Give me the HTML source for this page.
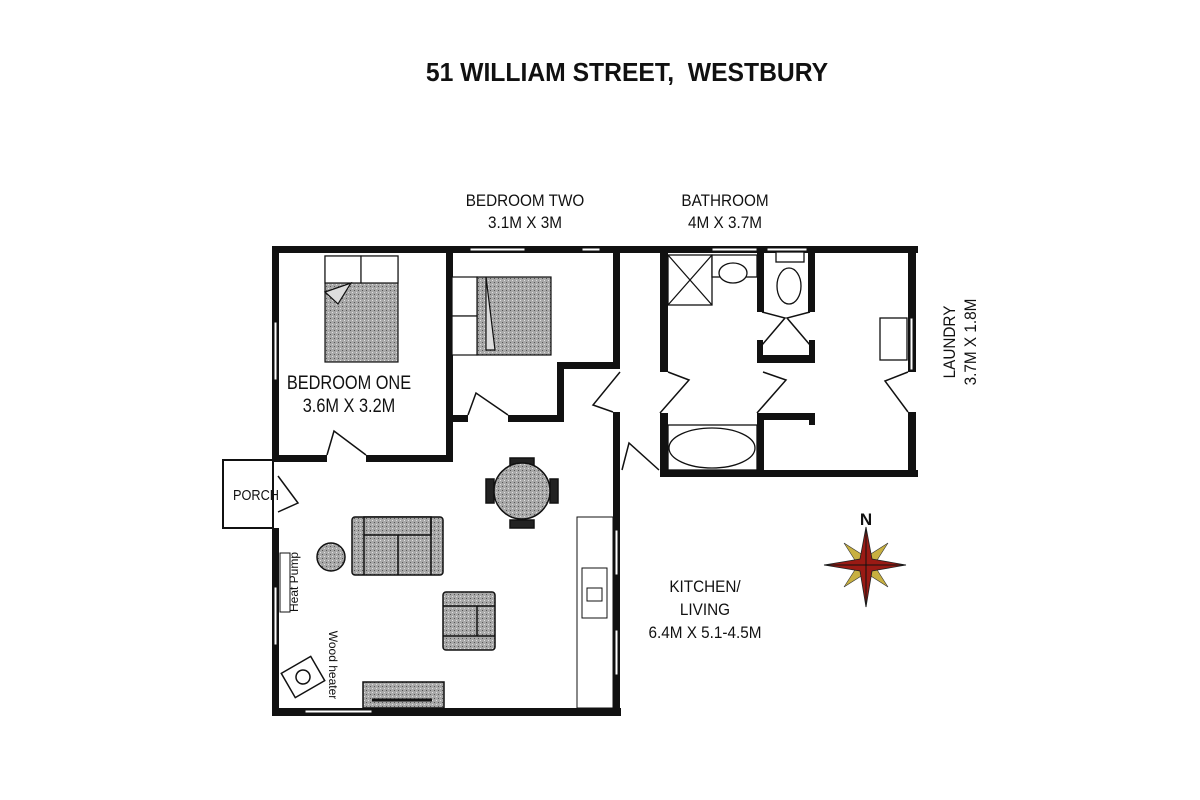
<!DOCTYPE html>
<html><head><meta charset="utf-8"><style>
html,body{margin:0;padding:0;background:#fff;}
svg{display:block}
text{font-family:"Liberation Sans",sans-serif;fill:#111}
</style></head><body>
<svg width="1200" height="800" viewBox="0 0 1200 800" xmlns="http://www.w3.org/2000/svg">
<defs>
<pattern id="g" width="4" height="4" patternUnits="userSpaceOnUse">
<rect width="4" height="4" fill="#a8a8a8"/><rect x="0" y="0" width="1" height="1" fill="#e0e0e0"/><rect x="2" y="2" width="1" height="1" fill="#555"/>
</pattern>
</defs>
<text x="627" y="81" font-size="26" font-weight="bold" text-anchor="middle" transform="translate(627 0) scale(0.95 1) translate(-627 0)" xml:space="preserve">51 WILLIAM STREET,  WESTBURY</text>

<g font-size="17" text-anchor="middle">
<text x="525" y="206" transform="translate(525 0) scale(0.9 1) translate(-525 0)">BEDROOM TWO</text>
<text x="525" y="228" transform="translate(525 0) scale(0.9 1) translate(-525 0)">3.1M X 3M</text>
<text x="725" y="206" transform="translate(725 0) scale(0.9 1) translate(-725 0)">BATHROOM</text>
<text x="725" y="228" transform="translate(725 0) scale(0.9 1) translate(-725 0)">4M X 3.7M</text>
<text x="705" y="592" transform="translate(705 0) scale(0.9 1) translate(-705 0)">KITCHEN/</text>
<text x="705" y="615" transform="translate(705 0) scale(0.9 1) translate(-705 0)">LIVING</text>
<text x="705" y="638" transform="translate(705 0) scale(0.9 1) translate(-705 0)">6.4M X 5.1-4.5M</text>
<text x="349" y="389" font-size="19" transform="translate(349 0) scale(0.86 1) translate(-349 0)">BEDROOM ONE</text>
<text x="349" y="412" font-size="19" transform="translate(349 0) scale(0.86 1) translate(-349 0)">3.6M X 3.2M</text>
<text transform="translate(955 342) rotate(-90) scale(0.9 1)" x="0" y="0">LAUNDRY</text>
<text transform="translate(976 342) rotate(-90) scale(0.9 1)" x="0" y="0">3.7M X 1.8M</text>
</g>

<!-- porch -->
<rect x="223" y="460" width="50" height="68" fill="#fff" stroke="#111" stroke-width="2"/>
<path d="M278 476 L298 503 L278 512" fill="#fff" stroke="#111" stroke-width="1.5"/>
<text x="256" y="500" font-size="15" text-anchor="middle" transform="translate(256 0) scale(0.85 1) translate(-256 0)">PORCH</text>

<!-- walls -->
<g fill="#111">
<rect x="272" y="246" width="646" height="7"/>
<rect x="272" y="246" width="7" height="215"/>
<rect x="272" y="528" width="7" height="188"/>
<rect x="272" y="708" width="349" height="8"/>
<rect x="446" y="246" width="7" height="216"/>
<rect x="272" y="455" width="55" height="7"/>
<rect x="366" y="455" width="87" height="7"/>
<rect x="446" y="415" width="22" height="7"/>
<rect x="508" y="415" width="55" height="7"/>
<rect x="557" y="362" width="7" height="60"/>
<rect x="557" y="362" width="63" height="7"/>
<rect x="613" y="246" width="7" height="123"/>
<rect x="613" y="412" width="7" height="304"/>
<rect x="660" y="246" width="8" height="126"/>
<rect x="660" y="413" width="8" height="64"/>
<rect x="660" y="470" width="258" height="7"/>
<rect x="908" y="246" width="8" height="126"/>
<rect x="908" y="412" width="8" height="65"/>
<rect x="757" y="246" width="7" height="66"/>
<rect x="808" y="246" width="7" height="66"/>
<rect x="757" y="355" width="58" height="8"/>
<rect x="757" y="340" width="6" height="22"/>
<rect x="809" y="340" width="6" height="22"/>
<rect x="757" y="413" width="7" height="64"/>
<rect x="757" y="413" width="58" height="7"/>
<rect x="809" y="413" width="6" height="12"/>
</g>
<!-- windows -->
<g fill="#fff" stroke="#111" stroke-width="1">
<rect x="470" y="248" width="55" height="3"/>
<rect x="582" y="248" width="18" height="3"/>
<rect x="712" y="248" width="45" height="3"/>
<rect x="767" y="248" width="40" height="3"/>
<rect x="274" y="322" width="3" height="58"/>
<rect x="274" y="587" width="3" height="58"/>
<rect x="305" y="710" width="67" height="3"/>
<rect x="615" y="530" width="3" height="45"/>
<rect x="615" y="630" width="3" height="45"/>
<rect x="910" y="318" width="3" height="52"/>
</g>
<!-- doors -->
<g fill="none" stroke="#111" stroke-width="1.5">
<path d="M366 455 L334 431 L327 455"/>
<path d="M508 415 L476 393 L468 415"/>
<path d="M620 372 L593 405 L613 412"/>
<path d="M660 413 L689 380 L668 372"/>
<path d="M659 470 L629 443 L622 470"/>
<path d="M757 413 L786 380 L763 372"/>
<path d="M908 412 L885 381 L908 372"/>
<path d="M762 345 L785 318 L762 312"/>
<path d="M810 345 L787 318 L810 312"/>
</g>
<!-- bathroom fixtures -->
<g fill="#fff" stroke="#111" stroke-width="1.3">
<rect x="668" y="255" width="44" height="50"/>
<path d="M668 255 L712 305 M712 255 L668 305"/>
<rect x="712" y="255" width="45" height="22"/>
<ellipse cx="733" cy="273" rx="14" ry="10"/>
<rect x="776" y="252" width="28" height="10"/>
<ellipse cx="789" cy="286" rx="12" ry="18"/>
<rect x="668" y="425" width="89" height="45"/>
<ellipse cx="712" cy="448" rx="43" ry="20"/>
<rect x="880" y="318" width="27" height="42"/>
</g>
<!-- beds -->
<g stroke="#111" stroke-width="1.2">
<rect x="325" y="256" width="73" height="106" fill="url(#g)"/>
<rect x="325" y="256" width="36" height="27" fill="#fff"/>
<rect x="361" y="256" width="37" height="27" fill="#fff"/>
<path d="M325 292 L351 283 L338 304 Z" fill="#ddd"/>
<rect x="477" y="277" width="74" height="78" fill="url(#g)"/>
<rect x="452" y="277" width="25" height="39" fill="#fff"/>
<rect x="452" y="316" width="25" height="39" fill="#fff"/>
<path d="M486 277 L486 350 L495 350 Z" fill="#ddd"/>
</g>
<!-- living furniture -->
<g stroke="#111" stroke-width="1.5">
<rect x="486" y="479" width="8" height="24" fill="#222"/>
<rect x="550" y="479" width="8" height="24" fill="#222"/>
<rect x="510" y="458" width="24" height="8" fill="#222"/>
<rect x="510" y="520" width="24" height="8" fill="#222"/>
<circle cx="522" cy="491" r="28" fill="url(#g)"/>
<rect x="352" y="517" width="91" height="58" rx="3" fill="url(#g)"/>
<rect x="364" y="517" width="67" height="18" fill="url(#g)"/>
<path d="M364 535 L364 575 M398 535 L398 575 M431 517 L431 575" fill="none"/>
<circle cx="331" cy="557" r="14" fill="url(#g)"/>
<rect x="443" y="592" width="52" height="58" rx="3" fill="url(#g)"/>
<path d="M443 606 L495 606 M443 636 L495 636 M477 606 L477 636" fill="none"/>
<rect x="363" y="682" width="81" height="26" fill="url(#g)"/>
<path d="M372 700 L432 700" stroke-width="3"/>
<rect x="577" y="517" width="36" height="191" fill="#fff" stroke-width="1"/>
<rect x="582" y="568" width="25" height="50" fill="#fff" stroke-width="1"/>
<rect x="587" y="588" width="15" height="13" fill="#fff" stroke-width="1"/>
<rect x="280" y="553" width="10" height="59" fill="#fff" stroke-width="1"/>
<g transform="translate(303 677) rotate(-30)"><rect x="-17" y="-14" width="34" height="28" fill="#fff"/><circle r="7" fill="#fff"/></g>
</g>
<text transform="translate(298 582) rotate(-90)" font-size="12" text-anchor="middle">Heat Pump</text>
<text transform="translate(329 665) rotate(90)" font-size="12" text-anchor="middle">Wood heater</text>

<!-- compass -->
<text x="866" y="525" font-size="17" font-weight="bold" text-anchor="middle">N</text>
<g transform="translate(866 565)">
<path d="M0 -8 L22 -22 L8 0 L22 22 L0 8 L-22 22 L-8 0 L-22 -22 Z" fill="#c8b040" stroke="#333" stroke-width="0.6"/>
<path d="M0 -38 L6 -6 L40 0 L6 6 L0 42 L-6 6 L-42 0 L-6 -6 Z" fill="#9a1a14" stroke="#222" stroke-width="0.8"/>
<path d="M0 -38 L0 42 M-42 0 L40 0" stroke="#111" stroke-width="1"/>
</g>
</svg>
</body></html>
